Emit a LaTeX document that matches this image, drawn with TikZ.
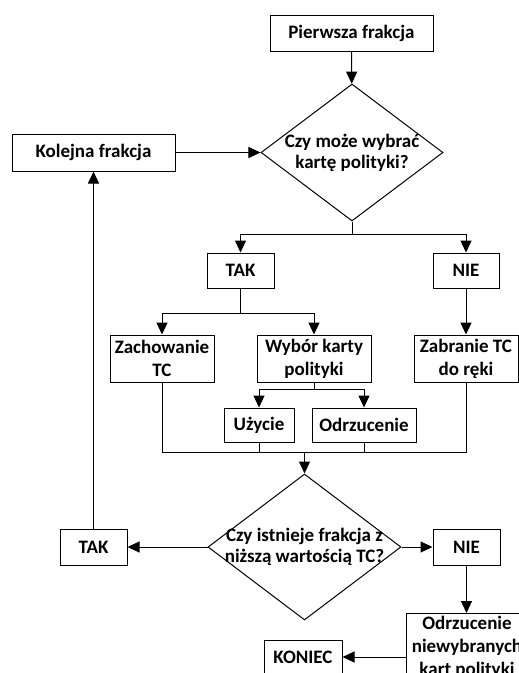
\documentclass[tikz,border=0pt]{standalone}
\usepackage{fontspec}
\setmainfont{Carlito}
\usetikzlibrary{shapes}
\usetikzlibrary{positioning}
\usetikzlibrary{arrows.meta}
\tikzset{
    box/.style = {rectangle, draw=black, line width=1pt, align=center, inner sep=0pt, font=\bfseries\fontsize{19}{23}\selectfont},
    decision/.style = {diamond, draw=black, line width=1pt, inner sep=0pt},
    qtext/.style = {align=center, inner sep=0pt, font=\bfseries\fontsize{19}{21}\selectfont},
    edgen/.style = {-{Triangle[length=12pt,width=11pt]}, line width=1pt},
    linen/.style = {line width=1pt},
}

\begin{document}
\begin{tikzpicture}[x=1pt,y=-1pt]
\useasboundingbox (0,0) rectangle (519,673);
\clip (0,0) rectangle (519,673);
%
\node[box, minimum width=163, minimum height=36] at (351.5, 33) (first) {Pierwsza frakcja};
\node[decision, minimum width=182, minimum height=137,
      label={[qtext]center:{Czy może wybrać\\kartę polityki?}}] at (352, 152.5) (q1) {};
\node[box, minimum width=163, minimum height=37] at (93.5, 152.5) (next) {Kolejna frakcja};
%
\node[box, minimum width=67, minimum height=35] at (240.5, 270.5) (yes1) {TAK};
\node[box, minimum width=66, minimum height=35] at (466, 270.5) (no1) {NIE};
\node[box, minimum width=104, minimum height=47] at (162, 358.5) (keep) {Zachowanie\\TC};
\node[box, minimum width=114, minimum height=47] at (314, 358.5) (pick) {Wybór karty\\polityki};
\node[box, minimum width=104, minimum height=47] at (466, 358.5) (take) {Zabranie TC\\do ręki};
\node[box, minimum width=70, minimum height=34] at (259, 425) (use) {Użycie};
\node[box, minimum width=104, minimum height=34] at (364, 425) (discard) {Odrzucenie};
%
\node[decision, minimum width=193, minimum height=146,
      label={[qtext]center:{Czy istnieje frakcja z\\niższą wartością TC?}}] at (304.5, 547) (q2) {};
\node[box, minimum width=67, minimum height=36] at (93.5, 547) (yes2) {TAK};
\node[box, minimum width=67, minimum height=36] at (466.5, 547) (no2) {NIE};
\node[box, minimum width=122, minimum height=67] at (467, 647) (drop) {Odrzucenie\\niewybranych\\kart polityki};
\node[box, minimum width=78, minimum height=34] at (303, 657) (end) {KONIEC};
%
\draw[edgen] (first) -- (q1);
\draw[edgen] (next) -- (q1);
\draw[linen] (q1.south) -- ++(0,13) coordinate (b1);
\draw[edgen] (b1) -| (yes1);
\draw[edgen] (b1) -| (no1);
\draw[linen] (yes1.south) -- ++(0,25) coordinate (b2);
\draw[edgen] (b2) -| (keep);
\draw[edgen] (b2) -| (pick);
\draw[edgen] (no1) -- (take);
\draw[linen] (pick.south) -- ++(0,7) coordinate (b3);
\draw[edgen] (b3) -| (use);
\draw[edgen] (b3) -| (discard);
%
\coordinate (b4) at (304.5, 452);
\draw[linen] (keep.south) |- (take.south |- b4) -- (take.south);
\draw[linen] (use.south) -- (use.south |- b4);
\draw[linen] (discard.south) -- (discard.south |- b4);
\draw[edgen] (b4) -- (q2);
\draw[edgen] (q2) -- (yes2);
\draw[edgen] (q2) -- (no2);
\draw[edgen] (yes2) -- (next);
\draw[edgen] (no2) -- (no2 |- drop.north);
\draw[edgen] (drop.west |- end) -- (end);

\end{tikzpicture}
\end{document}
